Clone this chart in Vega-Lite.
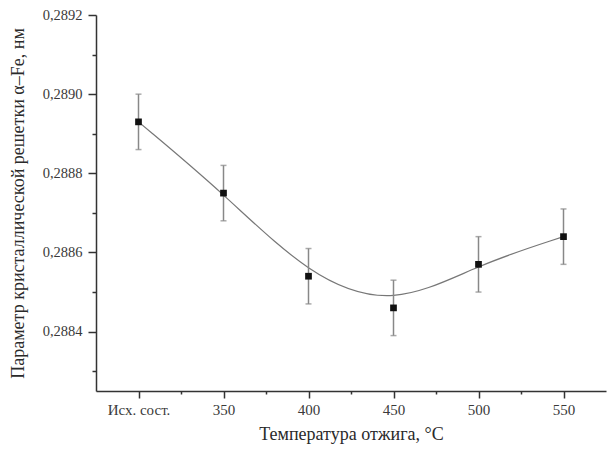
{
  "$schema": "https://vega.github.io/schema/vega-lite/v6.json",
  "autosize": {"type": "none"},
  "padding": {"left": 96, "top": 15, "right": 2, "bottom": 62},
  "width": 510,
  "height": 376,
  "background": "white",
  "config": {
    "view": {"stroke": null},
    "font": "'Liberation Serif', 'Times New Roman', serif",
    "axis": {"grid": false, "domainColor": "#333", "domainWidth": 1.5, "tickColor": "#333", "tickWidth": 1.5, "labelColor": "#3a3a3a", "titleColor": "#2a2a2a", "titleFontWeight": "normal"}
  },
  "data": {
    "values": [
      {"t": 300, "a": 0.28893, "lo": 0.28886, "hi": 0.28900},
      {"t": 350, "a": 0.28875, "lo": 0.28868, "hi": 0.28882},
      {"t": 400, "a": 0.28854, "lo": 0.28847, "hi": 0.28861},
      {"t": 450, "a": 0.28846, "lo": 0.28839, "hi": 0.28853},
      {"t": 500, "a": 0.28857, "lo": 0.28850, "hi": 0.28864},
      {"t": 550, "a": 0.28864, "lo": 0.28857, "hi": 0.28871}
    ]
  },
  "encoding": {
    "x": {
      "field": "t", "type": "quantitative",
      "scale": {"domain": [275, 575], "nice": false, "zero": false},
      "axis": {
        "title": "Температура отжига, °С",
        "values": [300, 325, 350, 375, 400, 425, 450, 475, 500, 525, 550],
        "labelExpr": "datum.value == 300 ? 'Исх. сост.' : (datum.value % 50 == 0 ? datum.label : '')",
        "tickSize": {"condition": {"test": "datum.value % 50 == 0", "value": 7}, "value": 3},
        "labelFont": "'Liberation Serif', 'Times New Roman', serif",
        "labelFontSize": 15,
        "labelPadding": 4,
        "titleFont": "'Liberation Serif', 'Times New Roman', serif",
        "titleFontSize": 18,
        "titlePadding": 8
      }
    },
    "y": {
      "field": "a", "type": "quantitative",
      "scale": {"domain": [0.28825, 0.2892], "nice": false, "zero": false},
      "axis": {
        "title": "Параметр кристаллической решетки α–Fe, нм",
        "values": [0.2883, 0.2884, 0.2885, 0.2886, 0.2887, 0.2888, 0.2889, 0.289, 0.2891, 0.2892],
        "labelExpr": "round(datum.value * 10000) % 2 == 0 ? replace(format(datum.value, '.4f'), '.', ',') : ''",
        "tickSize": {"condition": {"test": "round(datum.value * 10000) % 2 == 0", "value": 8}, "value": 4},
        "labelFont": "'Liberation Serif', 'Times New Roman', serif",
        "labelFontSize": 14.5,
        "labelPadding": 6,
        "titleFont": "'Liberation Serif', 'Times New Roman', serif",
        "titleFontSize": 18,
        "titlePadding": 15
      }
    }
  },
  "layer": [
    {"mark": {"type": "line", "interpolate": "basis", "color": "#777", "strokeWidth": 1.2}},
    {"mark": {"type": "rule", "color": "#888", "strokeWidth": 1.5}, "encoding": {"y": {"field": "lo", "type": "quantitative"}, "y2": {"field": "hi"}}},
    {"mark": {"type": "tick", "orient": "horizontal", "color": "#888", "size": 6, "thickness": 1.5}, "encoding": {"y": {"field": "lo", "type": "quantitative"}}},
    {"mark": {"type": "tick", "orient": "horizontal", "color": "#888", "size": 6, "thickness": 1.5}, "encoding": {"y": {"field": "hi", "type": "quantitative"}}},
    {"mark": {"type": "square", "size": 45, "filled": true, "color": "#111", "opacity": 1}}
  ]
}
